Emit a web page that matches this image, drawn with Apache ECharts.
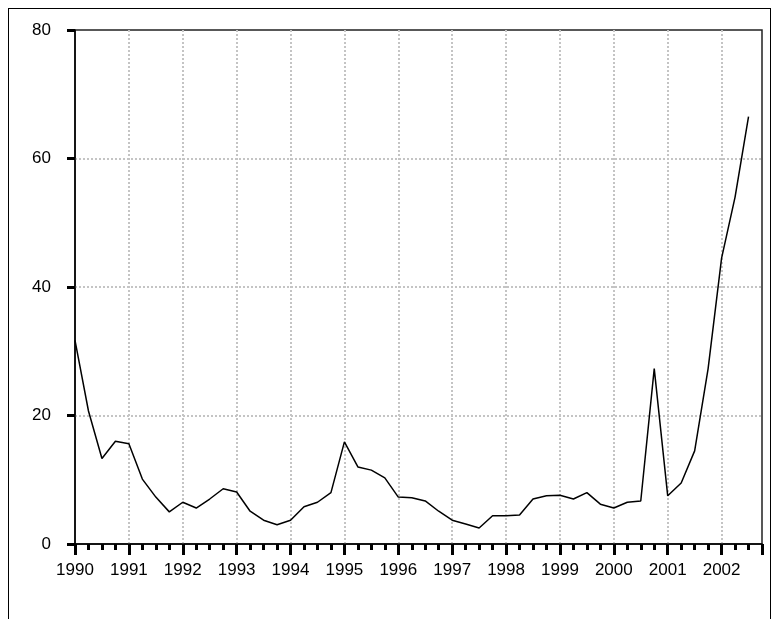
<!DOCTYPE html>
<html>
<head>
<meta charset="utf-8">
<script src="https://cdn.jsdelivr.net/npm/echarts@6/dist/echarts.min.js"></script>
<style>
html,body{margin:0;padding:0;background:#fff;}
#frame{position:absolute;left:8px;top:8px;width:761px;height:620px;border:1px solid #000;border-bottom:none;}
#demo{position:absolute;left:0;top:0;width:776px;height:619px;}
</style>
</head>
<body>
<div id="frame"></div>
<div id="demo"></div>
<script>
// quarterly series 1990Q1 - 2002Q3
var startYear = 1990;
var values = [
    31.7, 20.7, 13.3, 16.0,
    15.6, 10.1, 7.3, 5.0,
    6.5, 5.6, 7.0, 8.6,
    8.1, 5.1, 3.7, 3.0,
    3.7, 5.8, 6.5, 8.0,
    15.9, 12.0, 11.5, 10.3,
    7.3, 7.2, 6.7, 5.1,
    3.7, 3.1, 2.5, 4.4,
    4.4, 4.5, 7.0, 7.5,
    7.6, 7.0, 8.0, 6.2,
    5.6, 6.5, 6.7, 27.3,
    7.5, 9.5, 14.5, 27.3,
    44.5, 54.0, 66.5
];

var points = [];
for (var i = 0; i < values.length; i++) {
    points.push([startYear + i / 4, values[i]]);
}

var gridLine = { color: '#c4c4c4', type: [2, 2], width: 2 };

var myChart = echarts.init(document.getElementById('demo'));
var option = {
    animation: false,
    grid: { left: 75, right: 14, top: 30, bottom: 75, show: true, borderColor: '#222', borderWidth: 1.5, backgroundColor: 'transparent' },
    xAxis: {
        type: 'value',
        min: 1990,
        max: 2002.75,
        interval: 1,
        axisLine: { lineStyle: { color: '#000', width: 1.5 } },
        axisTick: { length: 11, lineStyle: { color: '#000', width: 3 } },
        minorTick: { show: true, splitNumber: 4, length: 6, lineStyle: { color: '#000', width: 3 } },
        axisLabel: { color: '#000', fontFamily: 'Liberation Sans', fontSize: 17, margin: 18,
            formatter: function (v) { return v === Math.floor(v) ? String(v) : ''; } },
        splitLine: { show: true, showMinLine: false, showMaxLine: false, lineStyle: gridLine }
    },
    yAxis: {
        type: 'value',
        min: 0,
        max: 80,
        interval: 20,
        axisLine: { show: true, lineStyle: { color: '#000', width: 1.5 } },
        axisTick: { show: true, length: 8, lineStyle: { color: '#000', width: 3 } },
        axisLabel: { color: '#000', fontFamily: 'Liberation Sans', fontSize: 17, margin: 24 },
        splitLine: { show: true, showMinLine: false, showMaxLine: false, lineStyle: gridLine }
    },
    series: [{
        type: 'line',
        data: points,
        symbol: 'none',
        lineStyle: { color: '#000', width: 1.5 }
    }]
};
myChart.setOption(option);
</script>
</body>
</html>
